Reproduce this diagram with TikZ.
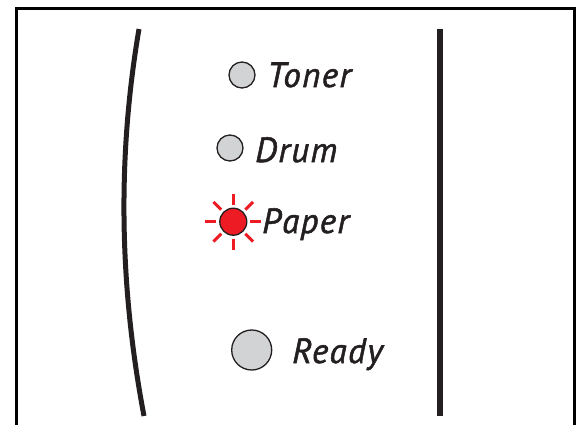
\documentclass[tikz,border=0pt]{standalone}
\usepackage{fontspec}
\setmainfont{PT Sans}
\newfontfamily\lblfont{PT Sans}[ItalicFeatures={FakeBold=1.5,LetterSpace=4}]
\usetikzlibrary{calc}
\definecolor{ink}{HTML}{231F20}
\definecolor{ledgray}{HTML}{D1D3D4}
\definecolor{ledred}{HTML}{ED1C24}
\begin{document}
\begin{tikzpicture}[x=1pt,y=-1pt,
  led/.style={circle,draw=ink,line width=1.3pt,fill=ledgray,inner sep=0pt},
  redled/.style={circle,draw=ink,line width=1.3pt,fill=ledred,inner sep=0pt},
  lbl/.style={anchor=base west,inner sep=0pt,text=ink,font=\fontsize{35}{40}\lblfont\itshape},
  ray/.style={draw=ledred,line width=3pt}]
\useasboundingbox (0,0) rectangle (579,424);
% frame
\draw[line width=3pt,black] (16,426) -- (16,8) -- (574,8) -- (574,426);
% bezel lines
\draw[ink,line width=5pt] (139,29) .. controls (115,170) and (122,300) .. (144,416);
\draw[ink,line width=6pt] (439.5,29) -- (439.5,416);
% LEDs
\node[led,minimum size=26pt] (toner) at (242,75) {};
\node[lbl] (tonerl) at (267,87) {Toner};
\node[led,minimum size=26pt] (drum) at (230,148) {};
\node[lbl] (druml) at (255,162) {Drum};
\node[redled,minimum size=27pt] (paper) at (233.3,221.7) {};
\foreach \a in {0,45,...,315}
  \draw[ray] ($(paper.center)+(\a:17)$) -- ($(paper.center)+(\a:28)$);
\node[lbl] (paperl) at (262,233) {Paper};
\node[led,minimum size=40pt] (ready) at (251.7,350) {};
\node[lbl] (readyl) at (292,363) {Ready};
\end{tikzpicture}
\end{document}
